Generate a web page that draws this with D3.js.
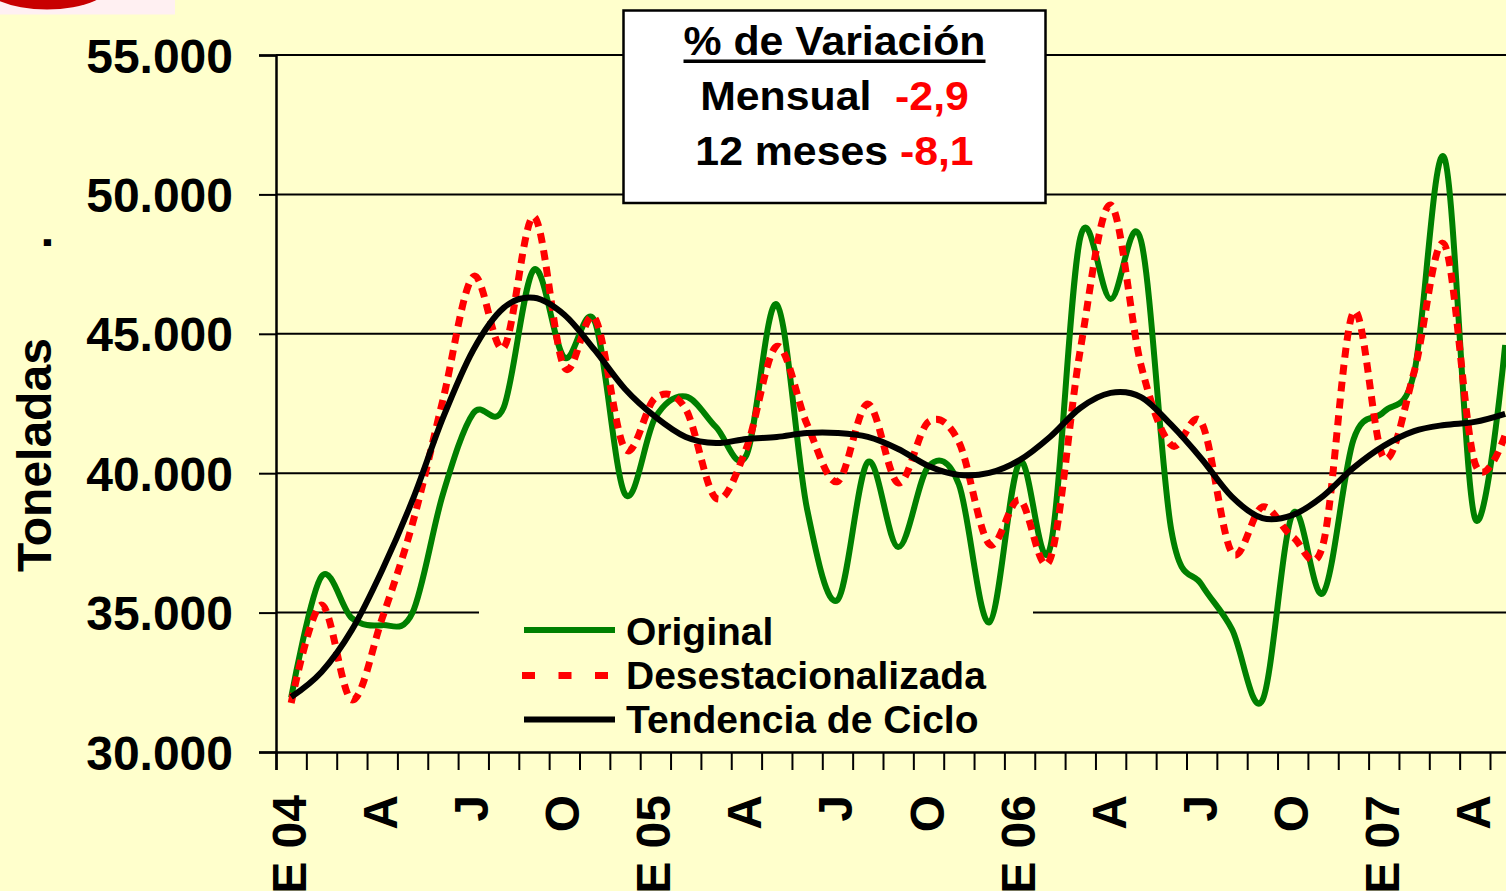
<!DOCTYPE html>
<html>
<head>
<meta charset="utf-8">
<script src="https://cdn.jsdelivr.net/npm/d3@7"></script>
<style>
  html, body { margin: 0; padding: 0; background: #FFFFCC; }
  svg { display: block; }
  text { font-family: "Liberation Sans", Arial, sans-serif; font-weight: bold; }
</style>
</head>
<body>
<svg id="chart" width="1506" height="891"></svg>
<script>
// ---------- DATA ----------
// Monthly observations, January 2004 .. May 2007
const months = d3.range(41); // month index 0 = E 04
const original = [
  31950, 36300, 34800, 34550, 35000, 39250, 42150, 42350, 47300, 44150,
  45450, 39250, 42000, 42750, 41650, 40650, 46050, 38700, 35450, 40400,
  37350, 40250, 39600, 34650, 40400, 37300, 48450, 46250, 48350, 37950,
  36000, 34400, 31850, 38550, 35700, 41200, 42200, 43600, 51300, 38400,
  44600
];
const desestacionalizada = [
  31760, 35270, 31870, 34800, 38200, 42630, 47050, 44500, 49200, 43800,
  45570, 40870, 42700, 42300, 39100, 40900, 44550, 41750, 39700, 42480,
  39650, 41840, 41120, 37460, 39040, 36900, 44420, 49620, 43880, 41010,
  41800, 37140, 38790, 37710, 37450, 45780, 40550, 43630, 48200, 40370,
  41370
];
const tendencia = [
  31970, 32870, 34380, 36530, 39040, 41980, 44420, 45930, 46290, 45680,
  44420, 43020, 42020, 41300, 41080, 41230, 41300, 41440, 41440, 41300,
  40870, 40260, 39940, 40010, 40470, 41300, 42340, 42880, 42730, 41730,
  40510, 39150, 38390, 38500, 39180, 40190, 40980, 41510, 41730, 41840,
  42130
];
const tickLabelMonths = [0, 3, 6, 9, 12, 15, 18, 21, 24, 27, 30, 33, 36, 39];
const tickLabels = ["E 04", "A", "J", "O", "E 05", "A", "J", "O", "E 06", "A", "J", "O", "E 07", "A"];
const yTicks = [30000, 35000, 40000, 45000, 50000, 55000];
const legendNames = ["Original", "Desestacionalizada", "Tendencia de Ciclo"];
const boxTitle = "% de Variación";
const boxRows = [["Mensual  ", "-2,9"], ["12 meses ", "-8,1"]];

// ---------- LAYOUT ----------
const W = 1506, H = 891;
const plotLeft = 276, plotTop = 55, plotBottom = 752;
const step = 30.35;
const svg = d3.select("#chart");

const x = d3.scaleLinear().domain([0, 41]).range([plotLeft, plotLeft + step * 41]);
const y = d3.scaleLinear().domain([30000, 55000]).range([plotBottom, plotTop]);
const locale = d3.formatLocale({decimal: ",", thousands: ".", grouping: [3], currency: ["", ""]});
const fmt = locale.format(",.0f");

// background
svg.append("rect").attr("width", W).attr("height", H).attr("fill", "#FFFFCC");

// logo fragment (top-left)
svg.append("rect").attr("x", 0).attr("y", 0).attr("width", 175).attr("height", 14.5).attr("fill", "#FFF0F2");
svg.append("ellipse").attr("cx", 47).attr("cy", -20.5).attr("rx", 68).attr("ry", 30).attr("fill", "#C80000");

// gridlines
svg.append("g").selectAll("line").data(yTicks.filter(d => d > 30000)).join("line")
  .attr("x1", plotLeft).attr("x2", W).attr("y1", d => y(d)).attr("y2", d => y(d))
  .attr("stroke", "#000").attr("stroke-width", 2);

// legend background (hides the gridline beneath it)
svg.append("rect").attr("x", 479).attr("y", 598).attr("width", 554).attr("height", 146).attr("fill", "#FFFFCC");

// y axis
const yAxis = d3.axisLeft(y).tickValues(yTicks).tickSize(17).tickPadding(26).tickFormat(fmt);
const gy = svg.append("g").attr("transform", `translate(${plotLeft},0)`).call(yAxis);
gy.select(".domain").attr("stroke", "#000").attr("stroke-width", 2.5);
gy.selectAll(".tick line").attr("stroke", "#000").attr("stroke-width", 2);
gy.selectAll(".tick text").attr("font-size", 48).attr("fill", "#000").attr("dy", "0.355em")
  .attr("font-family", "'Liberation Sans', Arial, sans-serif").attr("font-weight", "bold");

// x axis
const xAxis = d3.axisBottom(x).tickValues(d3.range(0, 42)).tickSize(18).tickFormat("");
const gx = svg.append("g").attr("transform", `translate(0,${plotBottom})`).call(xAxis);
gx.select(".domain").attr("stroke", "#000").attr("stroke-width", 2.5);
gx.selectAll(".tick line").attr("stroke", "#000").attr("stroke-width", 2);

// x labels (rotated)
svg.append("g").selectAll("text").data(tickLabelMonths).join("text")
  .attr("transform", (d) => `translate(${x(d + 0.5) + 15},795) rotate(-90)`)
  .attr("text-anchor", "end").attr("font-size", 48).attr("fill", "#000")
  .text((d, i) => tickLabels[i]);

// y title
svg.append("text").attr("transform", "translate(51,572) rotate(-90)")
  .attr("font-size", 48).attr("fill", "#000").text("Toneladas");
svg.append("text").attr("transform", "translate(51,236) rotate(-90)")
  .attr("text-anchor", "end").attr("font-size", 48).attr("fill", "#000").text(".");

// series
const line = d3.line().x((d, i) => x(i + 0.5)).y(d => y(d)).curve(d3.curveCardinal.tension(0));
const plot = svg.append("g");
plot.append("path").datum(original).attr("d", line).attr("fill", "none")
  .attr("stroke", "#008000").attr("stroke-width", 6).attr("stroke-linejoin", "round");
plot.append("path").datum(desestacionalizada).attr("d", line).attr("fill", "none")
  .attr("stroke", "#FF0000").attr("stroke-width", 7).attr("stroke-dasharray", "10,7");
plot.append("path").datum(tendencia).attr("d", line).attr("fill", "none")
  .attr("stroke", "#000").attr("stroke-width", 6).attr("stroke-linejoin", "round");

// legend
const lg = svg.append("g");
const legY = [630, 675.5, 719.5];
const legTextY = [645, 689, 733];
lg.append("line").attr("x1", 524).attr("x2", 615).attr("y1", legY[0]).attr("y2", legY[0])
  .attr("stroke", "#008000").attr("stroke-width", 6);
lg.append("line").attr("x1", 522).attr("x2", 615).attr("y1", legY[1]).attr("y2", legY[1])
  .attr("stroke", "#FF0000").attr("stroke-width", 7).attr("stroke-dasharray", "13,23.5");
lg.append("line").attr("x1", 524).attr("x2", 615).attr("y1", legY[2]).attr("y2", legY[2])
  .attr("stroke", "#000").attr("stroke-width", 6);
lg.selectAll("text").data(legendNames).join("text")
  .attr("x", 626).attr("y", (d, i) => legTextY[i]).attr("font-size", 39).attr("fill", "#000")
  .text(d => d);

// variation box
svg.append("rect").attr("x", 623.5).attr("y", 10.5).attr("width", 422).attr("height", 192.5)
  .attr("fill", "#fff").attr("stroke", "#000").attr("stroke-width", 2.5);
const bx = 834.5;
const tg = svg.append("g").attr("transform", `translate(${bx},0) scale(1.07,1)`);
const title = tg.append("text").attr("x", 0).attr("y", 55).attr("text-anchor", "middle")
  .attr("font-size", 40).attr("fill", "#000").text(boxTitle);
const tw = title.node().getComputedTextLength();
tg.append("rect").attr("x", -tw / 2).attr("y", 59.5).attr("width", tw).attr("height", 3.5).attr("fill", "#000");
[110, 165].forEach((by, i) => {
  const t = tg.append("text").attr("x", 0).attr("y", by).attr("text-anchor", "middle")
    .attr("font-size", 40).attr("fill", "#000").attr("xml:space", "preserve").style("white-space", "pre");
  t.append("tspan").text(boxRows[i][0]);
  t.append("tspan").attr("fill", "#FF0000").text(boxRows[i][1]);
});
</script>
</body>
</html>
